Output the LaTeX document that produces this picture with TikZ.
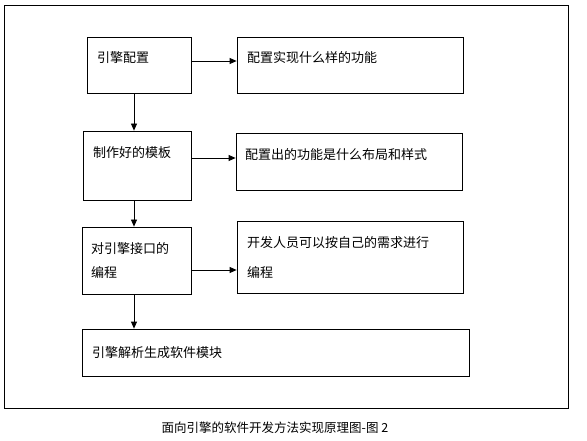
\documentclass[tikz,border=0pt]{standalone}
\usepackage{fontspec}
\setmainfont{Noto Sans CJK SC}
\usetikzlibrary{arrows.meta}
\begin{document}
\begin{tikzpicture}[x=1pt,y=1pt,
  box/.style={draw=black,line width=0.8pt,inner sep=0pt},
  txt/.style={anchor=west,inner sep=0pt,font=\fontsize{13}{16}\selectfont},
  arr/.style={line width=0.8pt,-{Triangle[length=7pt,width=6pt]}}]
\useasboundingbox (0,0) rectangle (587,-441);
% outer frame
\node[box,minimum width=564pt,minimum height=403pt] (frame) at (286,-206.5) {};
% left column
\node[box,minimum width=104pt,minimum height=56pt] (b1) at (139,-65) {};
\node[box,minimum width=108pt,minimum height=69pt] (b2) at (137,-165.5) {};
\node[box,minimum width=109pt,minimum height=67pt] (b3) at (136.5,-260.5) {};
\node[box,minimum width=387pt,minimum height=47pt] (b4) at (275.5,-352.5) {};
% right column
\node[box,minimum width=226pt,minimum height=56pt] (r1) at (350,-65) {};
\node[box,minimum width=226pt,minimum height=57pt] (r2) at (349,-161.5) {};
\node[box,minimum width=226pt,minimum height=72pt] (r3) at (350,-257) {};
% texts
\node[txt] (t1) at (97,-58) {引擎配置};
\node[txt] (t2) at (93,-153) {制作好的模板};
\node[txt] (t3a) at (91,-249) {对引擎接口的};
\node[txt] (t3b) at (91,-273) {编程};
\node[txt] (t4) at (92,-353) {引擎解析生成软件模块};
\node[txt] (s1) at (247,-58) {配置实现什么样的功能};
\node[txt] (s2) at (245,-155) {配置出的功能是什么布局和样式};
\node[txt] (s3a) at (247,-243) {开发人员可以按自己的需求进行};
\node[txt] (s3b) at (247,-273) {编程};
\node[inner sep=0pt,font=\fontsize{12.5}{15}\selectfont] (cap) at (275,-428) {面向引擎的软件开发方法实现原理图-图 2};
% vertical arrows
\draw[arr] ([xshift=-5pt]b1.south) -- ([xshift=-5pt]b1.south |- b2.north);
\draw[arr] ([xshift=-3pt]b2.south) -- ([xshift=-3pt]b2.south |- b3.north);
\draw[arr] ([xshift=-2.5pt]b3.south) -- ([xshift=-2.5pt]b3.south |- b4.north);
% horizontal arrows
\draw[arr] ([xshift=1pt,yshift=4pt]b1.east) -- ([yshift=4pt]b1.east -| r1.west);
\draw[arr] ([xshift=1pt,yshift=7.5pt]b2.east) -- ([yshift=7.5pt]b2.east -| r2.west);
\draw[arr] ([xshift=1pt,yshift=-9.5pt]b3.east) -- ([yshift=-9.5pt]b3.east -| r3.west);
\end{tikzpicture}
\end{document}
